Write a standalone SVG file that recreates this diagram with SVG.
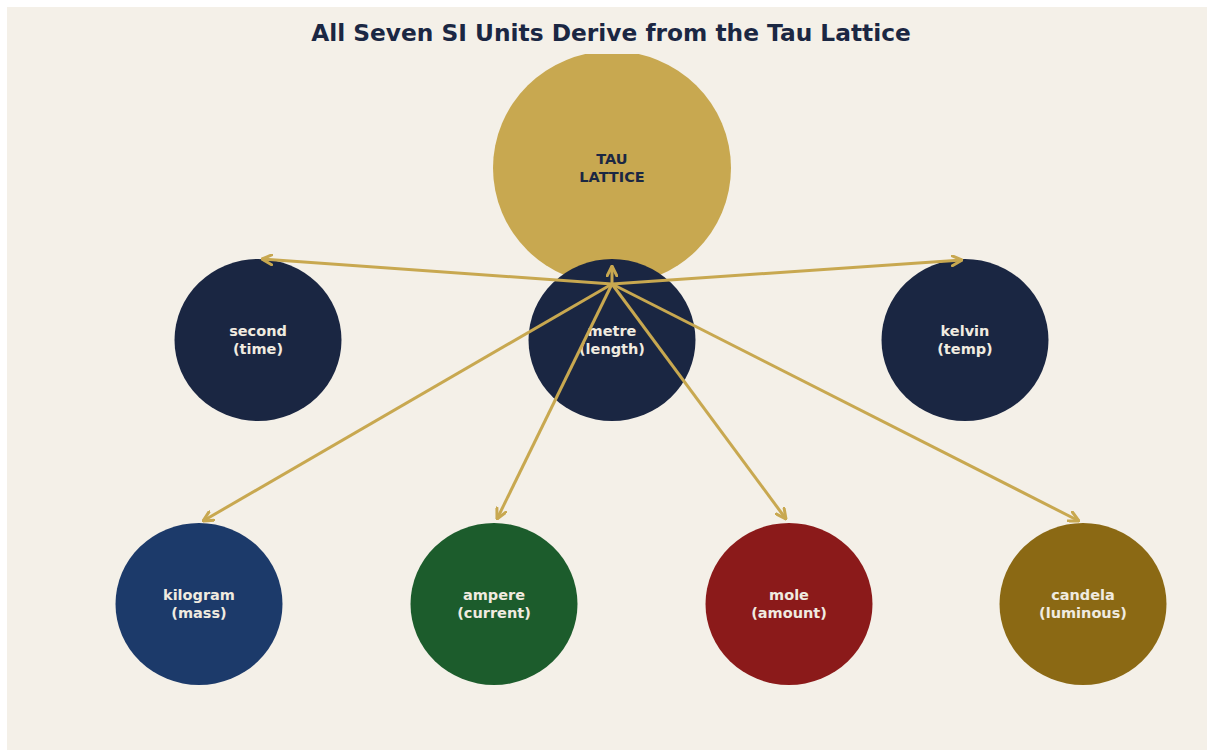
<svg xmlns="http://www.w3.org/2000/svg" width="1207" height="750" viewBox="0 0 1207 750">
<defs>
<style>
.lbl{font-family:"DejaVu Sans",sans-serif;font-weight:bold;font-size:14.5px;fill:#f0ebe0;text-anchor:middle}
.dark{fill:#1b2743}
.title{font-family:"DejaVu Sans",sans-serif;font-weight:bold;font-size:23.3px;fill:#1b2743;text-anchor:middle}
.conn{stroke:#c8a850;stroke-width:3;fill:none;marker-end:url(#arr)}
</style>
<marker id="arr" viewBox="0 0 12 12" refX="11" refY="6" markerWidth="12" markerHeight="12" markerUnits="userSpaceOnUse" orient="auto">
<path d="M1,1 L11,6 L1,11" fill="none" stroke="#c8a850" stroke-width="3" stroke-linecap="round" stroke-linejoin="miter"/>
</marker>
<clipPath id="plot"><rect x="7" y="54" width="1200" height="696"/></clipPath>
</defs>
<rect x="0" y="0" width="1207" height="750" fill="#ffffff"/>
<rect x="7" y="7" width="1200" height="743" fill="#f4f0e8"/>
<text class="title" x="611" y="41">All Seven SI Units Derive from the Tau Lattice</text>
<g clip-path="url(#plot)">
<g id="tau"><ellipse cx="612" cy="168" rx="119" ry="117" fill="#c8a850"/>
<text class="lbl dark" x="612" y="164">TAU</text><text class="lbl dark" x="612" y="182">LATTICE</text></g>
<g id="second"><ellipse cx="258" cy="340" rx="83.5" ry="81" fill="#1a2642"/>
<text class="lbl" x="258" y="336">second</text><text class="lbl" x="258" y="354">(time)</text></g>
<g id="metre"><ellipse cx="612" cy="340" rx="83.5" ry="81" fill="#1a2642"/>
<text class="lbl" x="612" y="336">metre</text><text class="lbl" x="612" y="354">(length)</text></g>
<g id="kelvin"><ellipse cx="965" cy="340" rx="83.5" ry="81" fill="#1a2642"/>
<text class="lbl" x="965" y="336">kelvin</text><text class="lbl" x="965" y="354">(temp)</text></g>
<g id="kilogram"><ellipse cx="199" cy="604" rx="83.5" ry="81" fill="#1c3a6a"/>
<text class="lbl" x="199" y="600">kilogram</text><text class="lbl" x="199" y="618">(mass)</text></g>
<g id="ampere"><ellipse cx="494" cy="604" rx="83.5" ry="81" fill="#1c5c2c"/>
<text class="lbl" x="494" y="600">ampere</text><text class="lbl" x="494" y="618">(current)</text></g>
<g id="mole"><ellipse cx="789" cy="604" rx="83.5" ry="81" fill="#8b1a1a"/>
<text class="lbl" x="789" y="600">mole</text><text class="lbl" x="789" y="618">(amount)</text></g>
<g id="candela"><ellipse cx="1083" cy="604" rx="83.5" ry="81" fill="#8b6914"/>
<text class="lbl" x="1083" y="600">candela</text><text class="lbl" x="1083" y="618">(luminous)</text></g>
<g id="connectors">
<line class="conn" x1="612" y1="284" x2="262" y2="259"/>
<line class="conn" x1="612" y1="284" x2="612" y2="266"/>
<line class="conn" x1="612" y1="284" x2="962" y2="260"/>
<line class="conn" x1="612" y1="284" x2="203" y2="521"/>
<line class="conn" x1="612" y1="284" x2="497" y2="519"/>
<line class="conn" x1="612" y1="284" x2="786" y2="519"/>
<line class="conn" x1="612" y1="284" x2="1079" y2="521"/>
</g>
</g>
</svg>
